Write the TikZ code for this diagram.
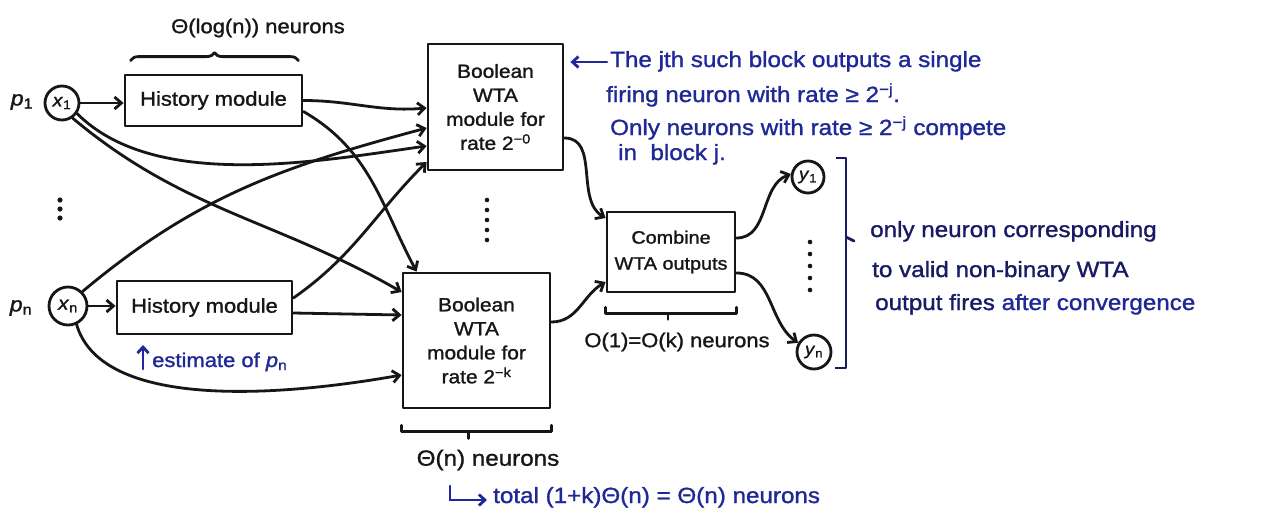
\documentclass[tikz,border=0pt]{standalone}
\usepackage{fontspec}
\setmainfont{Liberation Sans}[FakeStretch=1.1,FakeBold=1.3]
\usetikzlibrary{arrows.meta,decorations.pathreplacing}

\definecolor{ink}{RGB}{22,22,22}
\definecolor{inkblue}{RGB}{30,40,150}
\definecolor{inknavy}{RGB}{24,26,100}

\newcommand\fsz[2]{\fontsize{#1}{#2}\selectfont}
\newcommand\sub[2]{\textit{#1}\textsubscript{#2}}

\tikzset{
  pen/.style={line width=2.8pt, draw=ink, line cap=round, line join=round},
  arr/.style={pen, -{Straight Barb[length=7pt,width=12pt]}},
  box/.style={pen, rectangle, inner sep=0pt, align=center, text=ink},
  neuron/.style={pen, circle, inner sep=0pt, text=ink},
  lbl/.style={inner sep=0pt, text=ink},
  note/.style={inner sep=0pt, text=inkblue, anchor=base west},
  barr/.style={line width=2.8pt, draw=inkblue, line cap=round,
               -{Straight Barb[length=6pt,width=11pt]}},
  brk/.style={pen},
  dot/.style={fill=ink},
}

\begin{document}
\begin{tikzpicture}[x=1pt,y=-1pt]
\fill[white] (0,0) rectangle (1266,523);
\useasboundingbox (0,0) rectangle (1266,523);

% ---------- inputs ----------
\node[lbl, font=\fsz{21}{24}] (p1) at (22,102) {\sub{p}{1}};
\node[neuron, minimum size=34pt, font=\fsz{18}{20}] (x1) at (62,103) {\sub{x}{1}};
\node[lbl, font=\fsz{21}{24}] (pn) at (21,308) {\sub{p}{n}};
\node[neuron, minimum size=38pt, font=\fsz{19}{22}] (xn) at (68,306) {\sub{x}{n}};
\foreach \y in {200,209,218} \fill[dot] (60,\y) circle (2.6pt);

% ---------- history modules ----------
\node[box, minimum width=177pt, minimum height=51pt, font=\fsz{20}{24}] (hist1) at (213.5,100.5) {History module};
\node[box, minimum width=175pt, minimum height=53pt, font=\fsz{20}{24}] (histn) at (204.5,307.5) {History module};

% ---------- boolean WTA blocks ----------
\node[box, minimum width=135pt, minimum height=126pt, font=\fsz{19}{24}] (wta1) at (495.5,107)
  {Boolean\\WTA\\module for\\rate 2\textsuperscript{−0}};
\node[box, minimum width=147pt, minimum height=135pt, font=\fsz{19}{24}] (wtak) at (476.5,340.5)
  {Boolean\\WTA\\module for\\rate 2\textsuperscript{−k}};
\foreach \y in {200,210,220,230,240} \fill[dot] (487,\y) circle (2.3pt);

% ---------- combiner and outputs ----------
\node[box, minimum width=128pt, minimum height=80pt, font=\fsz{18}{26}] (comb) at (671,252)
  {Combine\\WTA outputs};
\node[neuron, minimum size=32pt, font=\fsz{17}{20}] (y1) at (808,177) {\sub{y}{1}};
\node[neuron, minimum size=34pt, font=\fsz{17}{20}] (yn) at (814,352) {\sub{y}{n}};
\foreach \y in {242,254,266,278,290} \fill[dot] (810,\y) circle (2.3pt);

% ---------- connectors ----------
\draw[arr] (x1) -- (x1 -| hist1.west);
\draw[arr] (xn) -- (xn -| histn.west);

\draw[arr] (hist1.east) to[out=0,in=185] ([yshift=-1pt]wta1.west);
\draw[arr] ([yshift=-11pt]hist1.east) to[out=-30,in=118] ([xshift=15pt]wtak.north west);

\draw[arr] (x1.-35) to[out=-45,in=188,looseness=0.8] ([yshift=-39pt]wta1.west);
\draw[arr] (x1.-55) to[out=-40,in=150] ([yshift=48.5pt]wtak.west);

\draw[arr] (xn.45) to[out=40,in=195] ([yshift=-21pt]wta1.west);
\draw[arr] ([yshift=9.5pt]histn.east) to[out=35,in=225] ([yshift=-55pt]wta1.west);
\draw[arr] ([yshift=-5.5pt]histn.east) -- ([yshift=25.5pt]wtak.west);
\draw[arr] (xn.-65) .. controls (100,405) and (260,400) .. ([yshift=-34.5pt]wtak.west);

\draw[arr] ([yshift=-31pt]wta1.east) to[out=0,in=150] ([yshift=34pt]comb.west);
\draw[arr] ([yshift=18.5pt]wtak.east) to[out=0,in=210] ([yshift=-30pt]comb.west);

\draw[arr] ([yshift=14pt]comb.east) to[out=0,in=200] (y1.170);
\draw[arr] ([yshift=-21pt]comb.east) to[out=0,in=145] (yn.150);

% ---------- size annotations ----------
\draw[pen, decorate, decoration={brace, amplitude=8pt}]
  ([xshift=7pt,yshift=13pt]hist1.north west) -- ([xshift=-5pt,yshift=13pt]hist1.north east);
\node[lbl, font=\fsz{20}{24}] (loglbl) at (258,28) {Θ(log(n)) neurons};

\draw[brk] ([yshift=-16pt]wtak.south west) -- ([yshift=-22pt]wtak.south west)
  -- ([yshift=-22pt]wtak.south east) -- ([yshift=-16pt]wtak.south east);
\draw[brk] ([xshift=-8pt,yshift=-22pt]wtak.south) -- ([xshift=-8pt,yshift=-29pt]wtak.south);
\node[lbl, font=\fsz{22}{26}] (nlbl) at (488,460) {Θ(n) neurons};

\draw[brk] ([yshift=-14pt]comb.south west) -- ([yshift=-20pt]comb.south west)
  -- ([yshift=-20pt]comb.south east) -- ([yshift=-14pt]comb.south east);
\draw[brk] ([xshift=-3pt,yshift=-20pt]comb.south) -- ([xshift=-3pt,yshift=-26pt]comb.south);
\node[lbl, font=\fsz{20}{24}] (olbl) at (677,342) {O(1)=O(k) neurons};

% ---------- notes ----------
\node[note, font=\fsz{22}{26}] (note1) at (610,67) {The jth such block outputs a single};
\node[note, font=\fsz{22}{26}] (note2) at (606,102) {firing neuron with rate ≥ 2\textsuperscript{−j}.};
\node[note, font=\fsz{22}{26}] (note3) at (610,135) {Only neurons with rate ≥ 2\textsuperscript{−j} compete};
\node[note, font=\fsz{22}{26}] (note4) at (618,160) {in \ block j.};
\coordinate (jtail) at ([xshift=-3pt,yshift=5pt]note1.base west);
\draw[barr, shorten >=6pt] (jtail) -- (jtail -| wta1.east);

\node[note, font=\fsz{20}{24}] (est) at (152,367) {estimate of \sub{p}{n}};
\draw[barr] ([xshift=-9pt,yshift=-2pt]est.base west) -- ([xshift=-9pt,yshift=22pt]est.base west);

\draw[line width=2.8pt, draw=inknavy, line join=round] (836,158) -- (846,158) -- (846,368) -- (835,368);
\draw[line width=2.8pt, draw=inknavy, line cap=round] (846,237) -- (854,241);
\node[note, text=inknavy, font=\fsz{22}{26}] (out1) at (870,237) {only neuron corresponding};
\node[note, text=inknavy, font=\fsz{22}{26}] (out2) at (872,277) {to valid non-binary WTA};
\node[note, text=inknavy, font=\fsz{22}{26}] (out3) at (875,310) {output fires \textcolor{inkblue}{after convergence}};

\node[note, font=\fsz{22}{26}] (tot) at (493,503) {total (1+k)Θ(n) = Θ(n) neurons};
\coordinate (ltop) at ([xshift=-43pt,yshift=17pt]tot.base west);
\coordinate (lend) at ([xshift=-6pt,yshift=3pt]tot.base west);
\draw[barr] (ltop) |- (lend);
\end{tikzpicture}
\end{document}
